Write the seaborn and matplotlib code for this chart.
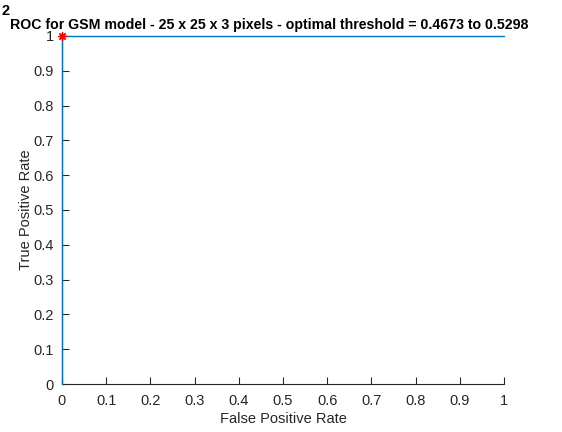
import matplotlib
matplotlib.use("Agg")
import matplotlib.pyplot as plt
import seaborn as sns
import numpy as np
import pandas as pd

# ROC curve points
fpr = [0.0, 0.0, 1.0]
tpr = [0.0, 1.0, 1.0]
# operating point at the optimal threshold
opt_fpr = [0.0]
opt_tpr = [1.0]
ticks = [0, 0.1, 0.2, 0.3, 0.4, 0.5, 0.6, 0.7, 0.8, 0.9, 1]
tick_labels = ["0", "0.1", "0.2", "0.3", "0.4", "0.5", "0.6", "0.7", "0.8", "0.9", "1"]

sns.set_style("white")
plt.rcParams['font.family'] = ['Liberation Sans', 'DejaVu Sans']

fig = plt.figure(figsize=(5.62, 4.32), dpi=100)
ax = fig.add_axes([62 / 562, 1 - 384 / 432, 442 / 562, 348 / 432])

df = pd.DataFrame({"fpr": fpr, "tpr": tpr})
sns.lineplot(data=df, x="fpr", y="tpr", ax=ax, color="#0072BD", linewidth=1.0,
             sort=False, estimator=None, clip_on=False, zorder=3)
ax.plot(opt_fpr, opt_tpr, marker=(8, 2, 0), color="red", markersize=6,
        markeredgewidth=0.9, linestyle="none", clip_on=False, zorder=4)

ax.set_xlim(0, 1)
ax.set_ylim(0, 1)
ax.set_xticks(ticks)
ax.set_xticklabels(tick_labels)
ax.set_yticks(ticks)
ax.set_yticklabels(tick_labels)

axis_color = "#262626"
for side in ["top", "right"]:
    ax.spines[side].set_visible(False)
for side in ["left", "bottom"]:
    ax.spines[side].set_color(axis_color)
    ax.spines[side].set_linewidth(0.8)
ax.tick_params(direction="in", length=5, width=0.8, colors=axis_color,
               labelsize=10.5, left=True, bottom=True)
ax.tick_params(axis="x", pad=7)
ax.tick_params(axis="y", pad=6)

ax.set_xlabel("False Positive Rate", fontsize=10.5, color=axis_color)
ax.set_ylabel("True Positive Rate", fontsize=10.5, color=axis_color)
ax.xaxis.set_label_coords(0.5, (384 - 419) / 348)
ax.yaxis.set_label_coords((26 - 62) / 442, 0.5)
ax.xaxis.label.set_va("center")
ax.yaxis.label.set_va("center")

fig.text(269 / 562, 1 - 25 / 432, "ROC for GSM model - 25 x 25 x 3 pixels - optimal threshold = 0.4673 to 0.5298",
         ha="center", va="center", fontsize=10.2, fontweight="bold", color="black")
fig.text(2 / 562, 1 - 11 / 432, "2", ha="left", va="center", fontsize=10.5,
         fontweight="bold", color="black")

fig.savefig("out.png", dpi=100)
